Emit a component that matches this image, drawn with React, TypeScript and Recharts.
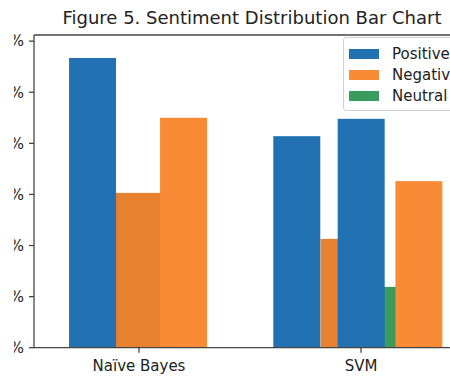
import React from "react";
import { BarChart, Bar, XAxis, YAxis, ReferenceLine } from "recharts";

const MODELS = ["Naïve Bayes", "SVM"];
const Y_TICKS = [0, 10, 20, 30, 40, 50, 60];
const Y_MAX = 61.2;
const X_DOMAIN = [-0.473, 1.491];

// each bar: [model index, offset from the model tick, percent]
const POSITIVE = [
  [0, -0.21, 56.7],
  [1, -0.29, 41.4],
  [1, 0.0, 44.8]
];
const NEGATIVE = [
  [0, 0.2, 45.0],
  [1, 0.26, 32.6]
];
// darker orange bars sitting behind the others
const NEGATIVE_BACK = [
  [0, 0.0, 30.3],
  [1, -0.077, 21.3]
];
const NEUTRAL = [[1, 0.13, 11.9]];

// drawing order = z order (first is at the back)
const SERIES = [
  { key: "negBack", name: "Negative", color: "#e8812f", bars: NEGATIVE_BACK },
  { key: "neutral", name: "Neutral", color: "#3b9a5e", bars: NEUTRAL },
  { key: "positive", name: "Positive", color: "#2271b3", bars: POSITIVE },
  { key: "negative", name: "Negative", color: "#fa8b36", bars: NEGATIVE }
];
const LEGEND_KEYS = ["positive", "negative", "neutral"];

const rows = SERIES.flatMap((s) =>
  s.bars.map(([m, off, v]) => {
    const row: any = { x: m + off };
    SERIES.forEach((t) => (row[t.key] = 0));
    row[s.key] = v;
    return row;
  })
).sort((a, b) => a.x - b.x);

const FONT = "DejaVu Sans, sans-serif";
const SPINE = "#444";
const BAR_PX = 47;

function WideBar(props: any) {
  const { x, y, width, height, fill } = props;
  if (!height || height <= 0) return null;
  const cx = x + width / 2;
  return <rect x={cx - BAR_PX / 2} y={y} width={BAR_PX} height={height} fill={fill} />;
}

function LegendBox() {
  const items = LEGEND_KEYS.map((k) => SERIES.find((s) => s.key === k)!);
  return (
    <div
      style={{
        position: "absolute",
        left: 343,
        top: 37,
        width: 130,
        height: 74,
        border: "1px solid #d0d0d0",
        borderRadius: 3,
        background: "rgba(255,255,255,0.85)",
        fontFamily: FONT,
        fontSize: 15,
        color: "#222",
        paddingTop: 5,
        boxSizing: "border-box"
      }}
    >
      {items.map((s) => (
        <div key={s.key} style={{ display: "flex", alignItems: "center", height: 21.3 }}>
          <span style={{ display: "inline-block", width: 30, height: 10, background: s.color, marginLeft: 5, marginRight: 13 }} />
          <span>{s.name}</span>
        </div>
      ))}
    </div>
  );
}

export default function App() {
  return (
    <div style={{ position: "absolute", left: 0, top: 0, width: 450, height: 376, overflow: "hidden", background: "#fff" }}>
      <div
        style={{
          position: "absolute",
          left: 0,
          top: 8,
          width: 504,
          textAlign: "center",
          fontFamily: FONT,
          fontSize: 18,
          lineHeight: "20px",
          color: "#222"
        }}
      >
        Figure 5. Sentiment Distribution Bar Chart
      </div>
      <div style={{ position: "absolute", left: 14, top: 0, width: 436, height: 376, overflow: "hidden" }}>
        <div style={{ position: "absolute", left: -14, top: 0 }}>
          <BarChart width={500} height={376} data={rows} margin={{ top: 35, right: 30, left: 0, bottom: 0 }}>
            <XAxis
              dataKey="x"
              type="number"
              domain={X_DOMAIN}
              ticks={[0, 1]}
              tickFormatter={(v) => MODELS[v] ?? ""}
              height={28.3}
              tickSize={5}
              tickMargin={8}
              stroke={SPINE}
              strokeWidth={1.3}
              tick={{ fill: "#222", fontSize: 15, fontFamily: FONT }}
            />
            <YAxis
              type="number"
              domain={[0, Y_MAX]}
              ticks={Y_TICKS}
              tickFormatter={(v) => `${v}%`}
              width={34}
              tickSize={5}
              tickMargin={5}
              stroke={SPINE}
              strokeWidth={1.3}
              tick={{ fill: "#222", fontSize: 15, fontFamily: FONT }}
            />
            <ReferenceLine y={Y_MAX} stroke={SPINE} strokeWidth={1.3} />
            {SERIES.map((s) => (
              <Bar
                key={s.key}
                dataKey={s.key}
                name={s.name}
                stackId="all"
                fill={s.color}
                shape={WideBar}
                legendType="none"
                isAnimationActive={false}
              />
            ))}
          </BarChart>
        </div>
      </div>
      <LegendBox />
    </div>
  );
}
